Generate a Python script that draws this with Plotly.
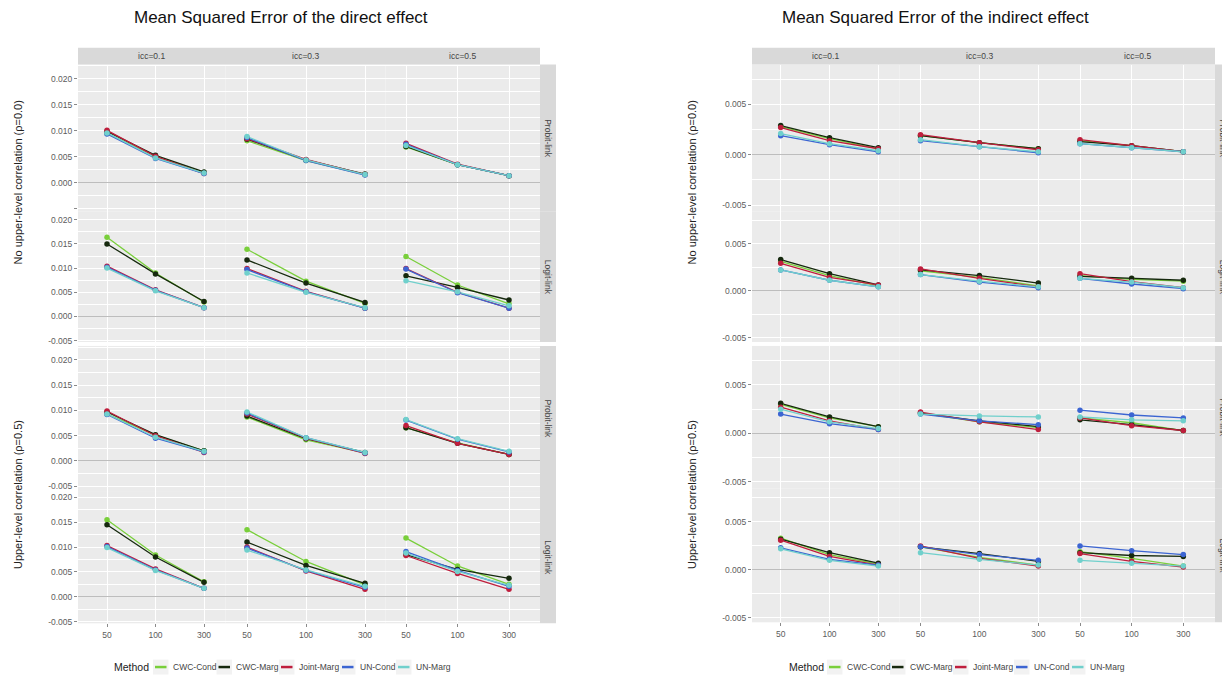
import plotly.graph_objects as go

W, H = 1222, 679

# ---------------- data ----------------
METHODS = ["CWC-Cond", "CWC-Marg", "Joint-Marg", "UN-Cond", "UN-Marg"]
COLORS = ["#79CF3B", "#16290E", "#BF1E3D", "#3C65D2", "#70D0CC"]
SAMPLE_SIZES = ["50", "100", "300"]
ICC_LABELS = ["icc=0.1", "icc=0.3", "icc=0.5"]
LINK_LABELS = ["Probit-link", "Logit-link", "Probit-link", "Logit-link"]
GROUP_LABELS = ["No upper-level correlation (\u03c1=0.0)", "Upper-level correlation (\u03c1=0.5)"]
TITLES = ["Mean Squared Error of the direct effect", "Mean Squared Error of the indirect effect"]

# each list: icc=0.1 (50,100,300), icc=0.3 (50,100,300), icc=0.5 (50,100,300)
DIRECT_RHO0_PROBIT = {
    "CWC-Cond":   [0.0095, 0.0051, 0.0020, 0.0081, 0.0043, 0.0016, 0.0069, 0.0035, 0.0014],
    "CWC-Marg":   [0.0099, 0.0053, 0.0021, 0.0084, 0.0044, 0.0017, 0.0070, 0.0035, 0.0014],
    "Joint-Marg": [0.0101, 0.0051, 0.0018, 0.0085, 0.0045, 0.0016, 0.0076, 0.0036, 0.0014],
    "UN-Cond":    [0.0094, 0.0047, 0.0018, 0.0087, 0.0043, 0.0015, 0.0074, 0.0035, 0.0014],
    "UN-Marg":    [0.0096, 0.0048, 0.0019, 0.0089, 0.0044, 0.0016, 0.0072, 0.0035, 0.0014],
}
DIRECT_RHO0_LOGIT = {
    "CWC-Cond":   [0.0164, 0.0090, 0.0030, 0.0139, 0.0073, 0.0027, 0.0124, 0.0065, 0.0026],
    "CWC-Marg":   [0.0150, 0.0088, 0.0031, 0.0117, 0.0069, 0.0029, 0.0084, 0.0060, 0.0034],
    "Joint-Marg": [0.0104, 0.0055, 0.0018, 0.0099, 0.0052, 0.0017, 0.0099, 0.0050, 0.0017],
    "UN-Cond":    [0.0102, 0.0054, 0.0018, 0.0097, 0.0051, 0.0017, 0.0098, 0.0049, 0.0017],
    "UN-Marg":    [0.0100, 0.0053, 0.0018, 0.0090, 0.0050, 0.0018, 0.0074, 0.0051, 0.0022],
}
DIRECT_RHO5_PROBIT = {
    "CWC-Cond":   [0.0093, 0.0051, 0.0020, 0.0087, 0.0042, 0.0016, 0.0066, 0.0036, 0.0013],
    "CWC-Marg":   [0.0097, 0.0052, 0.0020, 0.0089, 0.0044, 0.0017, 0.0066, 0.0035, 0.0013],
    "Joint-Marg": [0.0099, 0.0050, 0.0017, 0.0093, 0.0045, 0.0015, 0.0070, 0.0035, 0.0013],
    "UN-Cond":    [0.0092, 0.0045, 0.0018, 0.0095, 0.0046, 0.0016, 0.0081, 0.0043, 0.0018],
    "UN-Marg":    [0.0093, 0.0047, 0.0019, 0.0097, 0.0046, 0.0017, 0.0082, 0.0044, 0.0019],
}
DIRECT_RHO5_LOGIT = {
    "CWC-Cond":   [0.0155, 0.0084, 0.0030, 0.0135, 0.0071, 0.0024, 0.0118, 0.0062, 0.0025],
    "CWC-Marg":   [0.0145, 0.0080, 0.0029, 0.0110, 0.0063, 0.0027, 0.0085, 0.0055, 0.0037],
    "Joint-Marg": [0.0103, 0.0056, 0.0017, 0.0100, 0.0052, 0.0015, 0.0083, 0.0047, 0.0015],
    "UN-Cond":    [0.0101, 0.0054, 0.0017, 0.0098, 0.0053, 0.0019, 0.0091, 0.0053, 0.0021],
    "UN-Marg":    [0.0099, 0.0053, 0.0017, 0.0094, 0.0054, 0.0021, 0.0088, 0.0051, 0.0023],
}
INDIRECT_RHO0_PROBIT = {
    "CWC-Cond":   [0.0028, 0.0016, 0.0006, 0.0019, 0.0012, 0.0006, 0.0014, 0.0009, 0.0003],
    "CWC-Marg":   [0.0029, 0.0017, 0.0007, 0.0019, 0.0012, 0.0006, 0.0013, 0.0009, 0.0003],
    "Joint-Marg": [0.0027, 0.0014, 0.0006, 0.0020, 0.0012, 0.0005, 0.0015, 0.0009, 0.0003],
    "UN-Cond":    [0.0019, 0.0010, 0.0003, 0.0014, 0.0008, 0.0002, 0.0011, 0.0007, 0.0003],
    "UN-Marg":    [0.0021, 0.0011, 0.0004, 0.0015, 0.0008, 0.0003, 0.0011, 0.0007, 0.0003],
}
INDIRECT_RHO0_LOGIT = {
    "CWC-Cond":   [0.0031, 0.0016, 0.0005, 0.0021, 0.0014, 0.0005, 0.0016, 0.0012, 0.0010],
    "CWC-Marg":   [0.0033, 0.0018, 0.0006, 0.0022, 0.0016, 0.0008, 0.0015, 0.0013, 0.0011],
    "Joint-Marg": [0.0029, 0.0014, 0.0006, 0.0023, 0.0013, 0.0004, 0.0018, 0.00095, 0.0003],
    "UN-Cond":    [0.0022, 0.0011, 0.0004, 0.0017, 0.0009, 0.0003, 0.0013, 0.0007, 0.0002],
    "UN-Marg":    [0.0022, 0.0011, 0.0004, 0.0017, 0.0010, 0.0004, 0.0013, 0.0009, 0.0003],
}
INDIRECT_RHO5_PROBIT = {
    "CWC-Cond":   [0.0030, 0.0016, 0.0007, 0.0021, 0.0012, 0.0006, 0.0016, 0.0011, 0.0003],
    "CWC-Marg":   [0.0031, 0.0017, 0.0007, 0.0021, 0.0013, 0.0007, 0.0014, 0.0009, 0.0003],
    "Joint-Marg": [0.0027, 0.0013, 0.0004, 0.0022, 0.0012, 0.0004, 0.0016, 0.0008, 0.0003],
    "UN-Cond":    [0.0020, 0.0010, 0.0004, 0.0020, 0.0013, 0.0009, 0.0024, 0.0019, 0.0016],
    "UN-Marg":    [0.0025, 0.0012, 0.0005, 0.0020, 0.0018, 0.0017, 0.0017, 0.0014, 0.0013],
}
INDIRECT_RHO5_LOGIT = {
    "CWC-Cond":   [0.0033, 0.0016, 0.0006, 0.0024, 0.0013, 0.0005, 0.0019, 0.0012, 0.0004],
    "CWC-Marg":   [0.0032, 0.0018, 0.0007, 0.0024, 0.0017, 0.0009, 0.0018, 0.0015, 0.0014],
    "Joint-Marg": [0.0031, 0.0014, 0.0005, 0.0025, 0.0012, 0.0004, 0.0017, 0.0009, 0.0003],
    "UN-Cond":    [0.0023, 0.0011, 0.0005, 0.0024, 0.0016, 0.0010, 0.0025, 0.0020, 0.0016],
    "UN-Marg":    [0.0022, 0.0010, 0.0004, 0.0018, 0.0011, 0.0005, 0.0010, 0.0007, 0.0004],
}

EFFECT_ROWS = [
    [DIRECT_RHO0_PROBIT, DIRECT_RHO0_LOGIT, DIRECT_RHO5_PROBIT, DIRECT_RHO5_LOGIT],
    [INDIRECT_RHO0_PROBIT, INDIRECT_RHO0_LOGIT, INDIRECT_RHO5_PROBIT, INDIRECT_RHO5_LOGIT],
]

# ---------------- layout geometry (pixels) ----------------
# per column: (left, right, px of first category, px of last category)
COL_GEOM = [
    [(78, 225.5, 107, 204), (225.5, 385.5, 247, 365), (385.5, 540, 406, 509)],
    [(752, 899.5, 780.7, 878.3), (899.5, 1059, 920.5, 1038.3), (1059, 1215, 1080, 1183.3)],
]
# per row: (top, bottom, px of zero, px per 0.005)
ROW_GEOM = [
    [(65, 213, 184, 26.2), (213, 344, 318.3, 24.3), (348, 494, 463.7, 25.4), (494, 627, 600.3, 25.0)],
    [(65, 213, 155.7, 50.7), (213, 344, 292.3, 47.3), (348, 491.6, 436, 48.8), (491.6, 626, 573.3, 48.3)],
]
TITLE_X = [280.5, 935]
TITLE_Y = 18
STRIP_RIGHT_W = 16
YTITLE_X = [18, 692]
YTITLE_Y = [183.5, 498]
LEGEND_METHOD_X = [112, 787]
LEGEND_KEY_X = [[153, 216.5, 279, 340, 396], [827, 890, 953, 1014, 1070]]
LEGEND_Y = 671

FONT = "Liberation Sans, Arial, Helvetica, sans-serif"
PANEL_BG = "#EBEBEB"
STRIP_BG = "#D9D9D9"
TICK_COLOR = "#5c5c5c"


def fx(px):
    return px / W


def fy(py):
    return 1 - py / H


fig = go.Figure()
layout = dict(
    width=W, height=H, autosize=False,
    margin=dict(l=0, r=0, t=0, b=0),
    paper_bgcolor="white", plot_bgcolor=PANEL_BG,
    showlegend=False, font=dict(family=FONT),
)
shapes = []
annotations = []

n = 0
line_traces = []
marker_traces = []
for e in range(2):
    for r in range(4):
        top, bot, zero_px, pps = ROW_GEOM[e][r]
        ymax = (zero_px - top) / pps * 0.005
        ymin = (zero_px - bot) / pps * 0.005
        for c in range(3):
            n += 1
            left, right, p0, p2 = COL_GEOM[e][c]
            unit = (p2 - p0) / 2.0
            xr = [-(p0 - left) / unit, 2 + (right - p2) / unit]
            xname = "xaxis" if n == 1 else f"xaxis{n}"
            yname = "yaxis" if n == 1 else f"yaxis{n}"
            xid = "x" if n == 1 else f"x{n}"
            yid = "y" if n == 1 else f"y{n}"
            bottom_row = (r == 3)
            first_col = (c == 0)
            layout[xname] = dict(
                domain=[fx(left), fx(right)], anchor=yid, type="category",
                categoryorder="array", categoryarray=SAMPLE_SIZES, range=xr,
                showgrid=True, gridcolor="white", gridwidth=1.1, zeroline=False,
                showline=False, showticklabels=bottom_row,
                ticks="outside" if bottom_row else "", ticklen=3, tickwidth=1,
                tickcolor="#8a8a8a", tickfont=dict(size=8.5, color=TICK_COLOR, family=FONT),
                fixedrange=True,
            )
            if e == 0:
                tickvals = [-0.005, 0.0, 0.005, 0.010, 0.015, 0.020]
                ticktext = ["-0.005", "0.000", "0.005", "0.010", "0.015", "0.020"]
                if r == 0:
                    ticktext[0] = ""
            else:
                tickvals = [-0.005, 0.0, 0.005]
                ticktext = ["-0.005", "0.000", "0.005"]
            layout[yname] = dict(
                domain=[fy(bot), fy(top)], anchor=xid, range=[ymin, ymax],
                tickmode="array", tickvals=tickvals, ticktext=ticktext,
                showgrid=True, gridcolor="white", gridwidth=1.1,
                minor=dict(showgrid=True, gridcolor="white", gridwidth=0.55,
                           tickmode="linear", tick0=0.0025, dtick=0.005),
                zeroline=True, zerolinecolor="#BDBDBD", zerolinewidth=0.9,
                showline=False, showticklabels=first_col,
                ticks="outside" if first_col else "", ticklen=3, tickwidth=1,
                tickcolor="#8a8a8a", tickfont=dict(size=8.5, color=TICK_COLOR, family=FONT),
                fixedrange=True,
            )
            data = EFFECT_ROWS[e][r]
            for m, color in zip(METHODS, COLORS):
                vals = data[m][c * 3:(c + 1) * 3]
                line_traces.append(go.Scatter(
                    x=SAMPLE_SIZES, y=vals, mode="lines", name=m,
                    line=dict(color=color, width=1.3), xaxis=xid, yaxis=yid,
                    hoverinfo="skip", cliponaxis=False))
                marker_traces.append(go.Scatter(
                    x=SAMPLE_SIZES, y=vals, mode="markers", name=m,
                    marker=dict(color=color, size=5.5), xaxis=xid, yaxis=yid,
                    cliponaxis=False))

for t in line_traces + marker_traces:
    fig.add_trace(t)

# strips, titles, legends
for e in range(2):
    cols = COL_GEOM[e]
    rows = ROW_GEOM[e]
    pl, pr = cols[0][0], cols[2][1]
    # column strip
    shapes.append(dict(type="rect", xref="paper", yref="paper",
                       x0=fx(pl), x1=fx(pr), y0=fy(65), y1=fy(48),
                       fillcolor=STRIP_BG, line=dict(width=0), layer="below"))
    for c in range(3):
        annotations.append(dict(text=ICC_LABELS[c], xref="paper", yref="paper",
                                x=fx((cols[c][0] + cols[c][1]) / 2), y=fy(56.5),
                                xanchor="center", yanchor="middle", showarrow=False,
                                font=dict(size=8.5, color="#444", family=FONT)))
    # row strips
    for r in range(4):
        top, bot = rows[r][0], rows[r][1]
        shapes.append(dict(type="rect", xref="paper", yref="paper",
                           x0=fx(pr), x1=fx(pr + STRIP_RIGHT_W), y0=fy(bot), y1=fy(top),
                           fillcolor=STRIP_BG, line=dict(width=0), layer="below"))
        annotations.append(dict(text=LINK_LABELS[r], xref="paper", yref="paper",
                                x=fx(pr + STRIP_RIGHT_W / 2), y=fy((top + bot) / 2),
                                xanchor="center", yanchor="middle", showarrow=False,
                                textangle=90,
                                font=dict(size=8.5, color="#444", family=FONT)))
    # group titles (y axis titles)
    for g in range(2):
        annotations.append(dict(text=GROUP_LABELS[g], xref="paper", yref="paper",
                                x=fx(YTITLE_X[e]), y=fy(YTITLE_Y[g]),
                                xanchor="center", yanchor="middle", showarrow=False,
                                textangle=-90,
                                font=dict(size=11, color="#222", family=FONT)))
    # title
    annotations.append(dict(text=TITLES[e], xref="paper", yref="paper",
                            x=fx(TITLE_X[e]), y=fy(TITLE_Y), xanchor="center", yanchor="middle",
                            showarrow=False, font=dict(size=17, color="#111", family=FONT)))
    # legend
    annotations.append(dict(text="Method", xref="paper", yref="paper",
                            x=fx(LEGEND_METHOD_X[e]), y=fy(LEGEND_Y), xanchor="left",
                            yanchor="middle", showarrow=False,
                            font=dict(size=10.5, color="#222", family=FONT)))
    for kx, m, color in zip(LEGEND_KEY_X[e], METHODS, COLORS):
        shapes.append(dict(type="rect", xref="paper", yref="paper",
                           x0=fx(kx), x1=fx(kx + 15.5), y0=fy(LEGEND_Y + 7.5), y1=fy(LEGEND_Y - 7.5),
                           fillcolor="#F2F2F2", line=dict(width=0)))
        shapes.append(dict(type="line", xref="paper", yref="paper",
                           x0=fx(kx + 2), x1=fx(kx + 13.5), y0=fy(LEGEND_Y), y1=fy(LEGEND_Y),
                           line=dict(color=color, width=2.5)))
        annotations.append(dict(text=m, xref="paper", yref="paper",
                                x=fx(kx + 17.5), y=fy(LEGEND_Y), xanchor="left", yanchor="middle",
                                showarrow=False, font=dict(size=8.5, color="#444", family=FONT)))

layout["shapes"] = shapes
layout["annotations"] = annotations
fig.update_layout(**layout)

fig.write_html("out.html")
